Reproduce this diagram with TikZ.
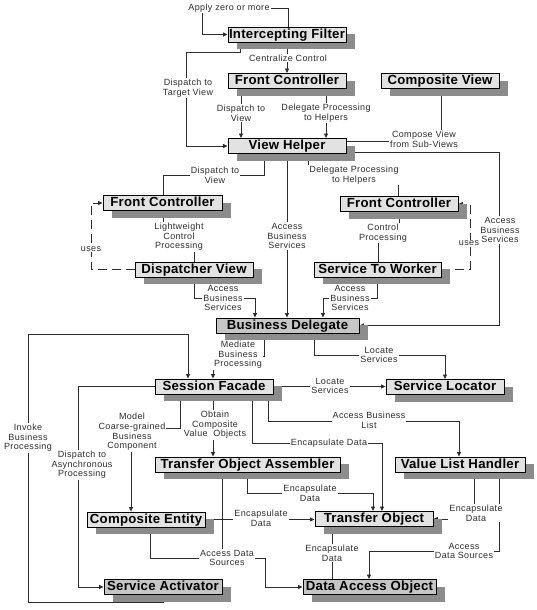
\documentclass[tikz,border=0pt]{standalone}
\usepackage{fontspec}
\setmainfont{Liberation Sans}
\newfontfamily\lblfont[LetterSpace=4]{Liberation Sans}
\newfontfamily\ttlfont[LetterSpace=2]{Liberation Sans}
\usetikzlibrary{arrows.meta,shadows,backgrounds}
\definecolor{boxl}{RGB}{226,226,226}
\definecolor{boxd}{RGB}{198,198,198}
\definecolor{shad}{RGB}{140,140,140}
\definecolor{linec}{RGB}{45,45,45}
\tikzset{
 pbox/.style={draw=black, line width=0.9pt, fill=boxl, minimum height=15pt, inner sep=0pt,
   font=\ttlfont\fontsize{13.2}{14}\selectfont\bfseries, text height=9.5pt, text depth=2.5pt,
   drop shadow={shadow xshift=9pt, shadow yshift=-7pt, fill=shad, opacity=1}},
 dbox/.style={pbox, fill=boxd},
 conn/.style={draw=linec, line width=0.8pt},
 arr/.style={-{Triangle[length=4.5pt,width=4pt]}},
 lbl/.style={fill=white, inner sep=1pt, align=center, font=\lblfont\fontsize{9}{9.6}\selectfont, text=linec},
 usesline/.style={conn, dash pattern=on 9pt off 5pt},
}
\begin{document}
\begin{tikzpicture}[x=1pt,y=-1pt]
\path[use as bounding box] (0,0) rectangle (536,610);
% boxes
\node[pbox, minimum width=118pt] (ifilter) at (287,34.5) {Intercepting Filter};
\node[pbox, minimum width=118pt] (fc1) at (287,81) {Front Controller};
\node[pbox, minimum width=118pt] (cv) at (440,81) {Composite View};
\node[pbox, minimum width=118pt] (vh) at (287,146) {View Helper};
\node[pbox, minimum width=119pt] (fc2) at (162.5,203) {Front Controller};
\node[pbox, minimum width=118pt] (dv) at (194,269.5) {Dispatcher View};
\node[pbox, minimum width=118pt] (fc3) at (399,204) {Front Controller};
\node[pbox, minimum width=127pt] (stw) at (377.5,269.5) {Service To Worker};
\node[dbox, minimum width=143pt] (bd) at (287.5,325.5) {Business Delegate};
\node[pbox, minimum width=118pt] (sf) at (214,386.5) {Session Facade};
\node[pbox, minimum width=118pt] (sl) at (445,387) {Service Locator};
\node[pbox, minimum width=185pt] (toa) at (247.5,464.5) {Transfer Object Assembler};
\node[pbox, minimum width=130pt] (vlh) at (460,464.5) {Value List Handler};
\node[pbox, minimum width=118pt] (ce) at (146,519.5) {Composite Entity};
\node[pbox, minimum width=118pt] (to) at (374,519) {Transfer Object};
\node[dbox, minimum width=118pt] (sa) at (163,587) {Service Activator};
\node[dbox, minimum width=133pt] (dao) at (369.5,587) {Data Access Object};

\begin{scope}[on background layer]
\fill[white] (0,0) rectangle (536,610);
% connectors
\draw[conn,arr] (288,0 |- ifilter.north) -- (288,8) -- (202,8) -- (202,34.5) -- (ifilter.west);
\draw[conn,arr] (ifilter.south) -- (fc1.north);
\draw[conn,arr] (240,0 |- ifilter.south) -- (240,52) -- (186,52) -- (186,146) -- (vh.west);
\draw[conn,arr] (241,0 |- fc1.south) -- (241,0 |- vh.north);
\draw[conn,arr] (326,0 |- fc1.south) -- (326,0 |- vh.north);
\draw[conn,arr] (vh.east |- 0,141) -- (441,141) -- (441,0 |- cv.south);
\draw[conn,arr] (vh.east |- 0,152) -- (499,152) -- (499,325.5) -- (bd.east);
\draw[conn,arr] (287,0 |- vh.south) -- (287,0 |- bd.north);
\draw[conn,arr] (163,0 |- fc2.north) -- (163,175) -- (264,175) -- (264,0 |- vh.south);
\draw[conn,arr] (398,0 |- fc3.north) -- (398,175) -- (308,175) -- (308,0 |- vh.south);
\draw[conn,arr] (194,0 |- dv.north) -- (194,237) -- (163,237) -- (163,0 |- fc2.south);
\draw[usesline,arr] (dv.west) -- (91,269.5) -- (91,203) -- (fc2.west);
\draw[conn,arr] (378,0 |- stw.north) -- (378,233) -- (399,233) -- (399,0 |- fc3.south);
\draw[usesline,arr] (stw.east) -- (470,269.5) -- (470,204) -- (fc3.east);
\draw[conn,arr] (194,0 |- dv.south) -- (194,298) -- (255,298) -- (255,0 |- bd.north);
\draw[conn,arr] (377,0 |- stw.south) -- (377,298) -- (323,298) -- (323,0 |- bd.north);
\draw[conn,arr] (264,0 |- bd.south) -- (264,356) -- (213,356) -- (213,0 |- sf.north);
\draw[conn,arr] (314,0 |- bd.south) -- (314,355) -- (445,355) -- (sl.north);
\draw[conn,arr] (sf.east) -- (sf.east -| sl.west);
\draw[conn,arr] (163,0 |- sa.south) -- (163,602) -- (28,602) -- (28,334) -- (188,334) -- (188,0 |- sf.north);
\draw[conn,arr] (sf.west) -- (78,386.5) -- (78,587) -- (sa.west);
\draw[conn,arr] (180,0 |- sf.south) -- (180,428) -- (131,428) -- (131,0 |- ce.north);
\draw[conn,arr] (213,0 |- sf.south) -- (213,0 |- toa.north);
\draw[conn,arr] (252,0 |- sf.south) -- (252,443) -- (382,443) -- (382,0 |- to.north);
\draw[conn,arr] (268,0 |- sf.south) -- (268,421) -- (459,421) -- (459,0 |- vlh.north);
\draw[conn,arr] (247,0 |- toa.south) -- (247,493) -- (373,493) -- (373,0 |- to.north);
\draw[conn] (222,0 |- toa.south) -- (222,556);
\draw[conn,arr] (150,0 |- ce.south) -- (150,558) -- (265,558) -- (265,587) -- (dao.west);
\draw[conn,arr] (ce.east) -- (ce.east -| to.west);
\draw[conn,arr] (332,0 |- dao.north) -- (332,0 |- to.south);
\draw[conn,arr] (474,0 |- vlh.south) -- (474,519) -- (to.east);
\draw[conn,arr] (499,0 |- vlh.south) -- (499,551) -- (369,551) -- (369,0 |- dao.north);
% labels
\node[lbl] (l1) at (229,8) {Apply zero or more};
\node[lbl] (l2) at (288,58) {Centralize Control};
\node[lbl] (l3) at (188,88) {Dispatch to\\Target View};
\node[lbl] (l4) at (241,113) {Dispatch to\\View};
\node[lbl] (l5) at (326,113) {Delegate Processing\\to Helpers};
\node[lbl] (l6) at (424,139) {Compose View\\from Sub-Views};
\node[lbl] (l7) at (500,230) {Access\\Business\\Services};
\node[lbl] (l8) at (287,236) {Access\\Business\\Services};
\node[lbl] (l9) at (215,175) {Dispatch to\\View};
\node[lbl] (l10) at (354,175) {Delegate Processing\\to Helpers};
\node[lbl] (l11) at (179,237) {Lightweight\\Control\\Processing};
\node[lbl] (l12) at (91,249) {uses};
\node[lbl] (l13) at (383,233) {Control\\Processing};
\node[lbl] (l14) at (469,243) {uses};
\node[lbl] (l15) at (223,298) {Access\\Business\\Services};
\node[lbl] (l16) at (350,298) {Access\\Business\\Services};
\node[lbl] (l17) at (238,355) {Mediate\\Business\\Processing};
\node[lbl] (l18) at (379,355) {Locate\\Services};
\node[lbl] (l19) at (330,386) {Locate\\Services};
\node[lbl] (l20) at (28,438) {Invoke\\Business\\Processing};
\node[lbl] (l21) at (82,465) {Dispatch to\\Asynchronous\\Processing};
\node[lbl] (l22) at (132,432) {Model\\Coarse-grained\\Business\\Component};
\node[lbl] (l23) at (215,425) {Obtain\\Composite\\Value~ Objects};
\node[lbl] (l24) at (329,443) {Encapsulate Data};
\node[lbl] (l25) at (369,420) {Access Business\\List};
\node[lbl] (l26) at (310,493) {Encapsulate\\Data};
\node[lbl] (l27) at (227,558) {Access Data\\Sources};
\node[lbl] (l28) at (261,518) {Encapsulate\\Data};
\node[lbl] (l29) at (332,553) {Encapsulate\\Data};
\node[lbl] (l30) at (476,513) {Encapsulate\\Data};
\node[lbl] (l31) at (464,551) {Access\\Data Sources};
\end{scope}
\end{tikzpicture}
\end{document}
